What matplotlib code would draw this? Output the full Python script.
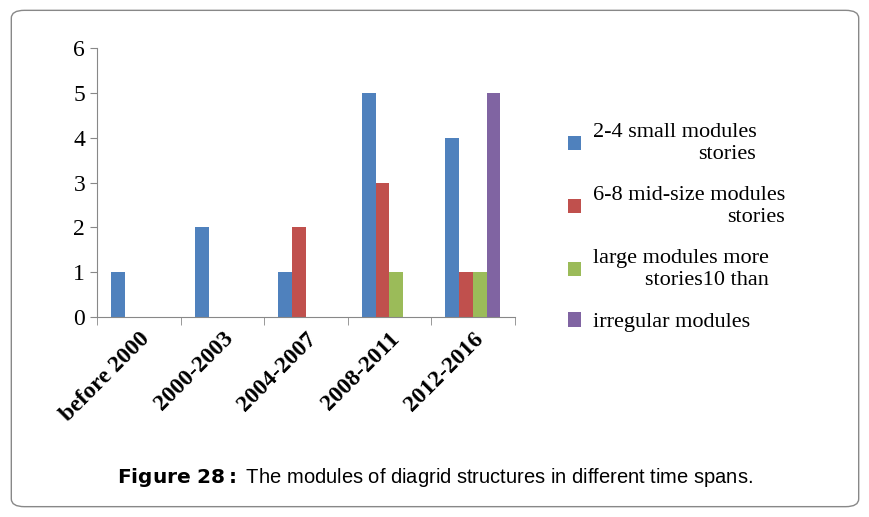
import matplotlib.pyplot as plt
import numpy as np
from matplotlib.patches import FancyBboxPatch

categories = ["before 2000", "2000-2003", "2004-2007", "2008-2011", "2012-2016"]
small = [1, 2, 1, 5, 4]
midsize = [0, 0, 2, 3, 1]
large = [0, 0, 0, 1, 1]
irregular = [0, 0, 0, 0, 5]
labels = ["2-4 small modules\nstories", "6-8 mid-size modules\nstories",
          "large modules more\nstories10 than", "irregular modules"]
colors = ["#4F81BD", "#C0504D", "#9BBB59", "#8064A2"]

fig = plt.figure(figsize=(8.7, 5.17), dpi=100)
fig.patches.append(FancyBboxPatch((0.013, 0.02), 0.974, 0.96,
                                  boxstyle="round,pad=0,rounding_size=0.015",
                                  transform=fig.transFigure, fill=False,
                                  edgecolor="#888888", linewidth=1))
ax = fig.add_axes([0.1115, 0.387, 0.480, 0.520])

x = np.arange(len(categories))
w = 0.165
for i, (vals, lab, c) in enumerate(zip([small, midsize, large, irregular], labels, colors)):
    ax.bar(x + (i - 1.5) * w, vals, w, color=c, label=lab)

ax.set_xlim(-0.5, len(categories) - 0.5)
ax.set_ylim(0, 6)
ax.set_yticks(range(7))
ax.set_yticklabels(range(7), fontfamily="Liberation Serif", fontsize=17)
ax.set_xticks(x)
ax.set_xticklabels(categories, rotation=45, ha="right", rotation_mode="anchor",
                   fontfamily="Liberation Serif", fontsize=17, fontweight="bold")
ax.tick_params(axis="x", length=0, pad=8)
ax.set_xticks(np.arange(-0.5, len(categories)), minor=True)
ax.tick_params(axis="x", which="minor", length=6, color="#888888")
ax.tick_params(axis="y", length=5, color="#888888")
for s in ["top", "right"]:
    ax.spines[s].set_visible(False)
for s in ["left", "bottom"]:
    ax.spines[s].set_color("#888888")

leg = fig.legend(loc="upper left", bbox_to_anchor=(0.63, 0.80), frameon=False,
                 prop={"family": "Liberation Serif", "size": 16},
                 handlelength=0.6, handleheight=0.6, labelspacing=1.0,
                 handletextpad=0.5)
for t in leg.get_texts():
    t.set_multialignment("right")

fig.text(0.5, 0.065, r"$\bf{Figure\ 28:}$ The modules of diagrid structures in different time spans.",
         ha="center", fontfamily="Liberation Sans", fontsize=14.5)
fig.savefig("out.png", dpi=100)
